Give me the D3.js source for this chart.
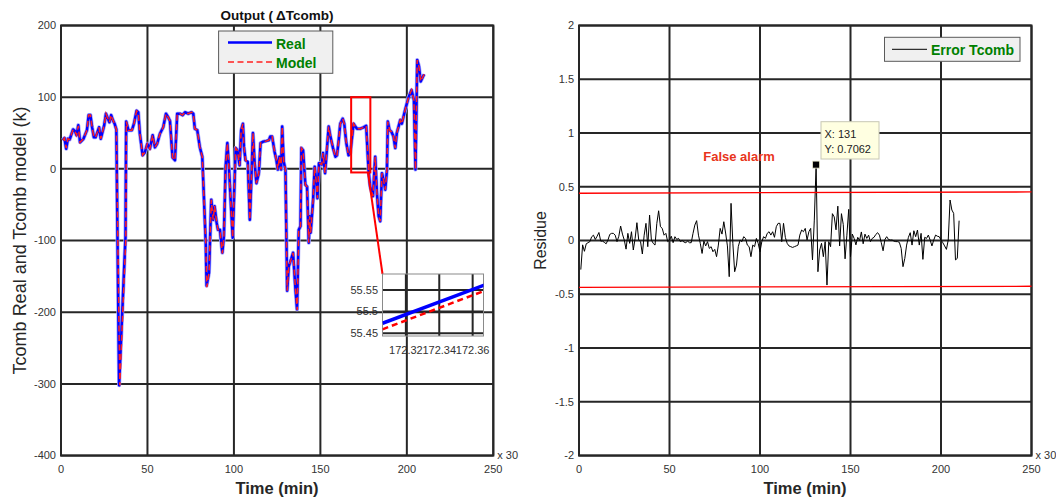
<!DOCTYPE html>
<html><head><meta charset="utf-8">
<script src="https://cdn.jsdelivr.net/npm/d3@7"></script>
<style>body{margin:0;background:#fff} text{font-family:"Liberation Sans",Arial,Helvetica,sans-serif}</style>
</head><body><svg id="c" width="1056" height="497"></svg>
<script>
// ---------- data ----------
const xTicks = [0, 50, 100, 150, 200, 250];
const leftYTicks = [-400, -300, -200, -100, 0, 100, 200];
const rightYTicks = [-2, -1.5, -1, -0.5, 0, 0.5, 1, 1.5, 2];
const legendLeft = ["Real", "Model"];
const legendRight = ["Error Tcomb"];

// [time, value] of Tcomb real
const realPoints = [[1,40],[2,43],[3,28],[4,42],[5,41],[7,55],[8,53],[9,47],[10,61],[11,37],[13,42],[15,54],[16,75],[17,75],[18,58],[19,44],[20,44],[22,58],[23,42],[25,61],[26,77],[28,65],[29,75],[30,68],[31,63],[32,55],[33.6,-302],[37.3,-95],[37.7,66],[39,54],[41,54],[42.2,63],[43.7,81],[44.7,79],[45.6,49],[47.2,19],[48.5,23],[49.9,35],[51.4,28],[53,47],[54.3,30],[55.6,35],[57.2,49],[59.1,58],[60.7,77],[62,72],[63,67],[64.5,16],[65.9,12],[67.2,77],[68.8,77],[70.3,75],[71.7,79],[73.6,77],[75.5,79],[76.5,77],[77.4,56],[78.8,54],[80.3,30],[81.7,17],[83.7,-103],[84.2,-163],[85.6,-145],[86.9,-43],[88,-71],[88.8,-52],[90,-75],[90.8,-85],[91.9,-85],[93.3,-117],[94.2,-94],[95.2,3],[96.2,36],[97.1,3],[98.1,-43],[99.3,-96],[101,29],[102,26],[103.3,5],[104.2,54],[105.2,63],[105.8,31],[106.7,12],[108,10],[109.2,-71],[110,-20],[111,50],[112,8],[113,-20],[114.4,-6],[115.4,36],[116.9,38],[118.8,39],[120.2,40],[121,45],[122.1,45],[123.5,24],[124.6,12],[125.4,-1],[126.3,17],[127.3,-1],[127.9,59],[128.8,10],[129.8,-1],[130.8,-170],[131.7,-136],[133.1,-126],[134.2,-117],[135.6,-168],[136.5,-196],[137.5,-85],[138.5,-80],[139,29],[140,26],[141.3,-22],[142.3,-25],[143.3,-103],[143.8,-66],[144.4,-89],[145.8,-43],[146.7,3],[147.7,-20],[148.3,-41],[149.2,8],[150.8,6],[151.5,22],[152.7,-6],[154.8,59],[155.8,45],[157.3,29],[158.7,17],[159.6,19],[160.6,40],[161.5,63],[162.9,70],[163.8,63],[165,36],[166.3,19],[167.3,22],[169.2,63],[170.2,59],[171.2,56],[173.1,56],[175,58],[176.5,60],[177.9,-4],[178.8,-25],[180.4,-38],[181.7,17],[182.7,-34],[183.7,-66],[184.6,-73],[185.6,-6],[186.5,-15],[187.5,-29],[188.5,-1],[189,66],[190,54],[191,52],[192.3,45],[193.3,29],[194.2,50],[195.2,59],[196.2,68],[197.1,63],[198.1,73],[199,82],[200,91],[201,100],[202.7,110],[204.1,96],[205,-1],[206,152],[207,143],[208,122],[210,132]];
// [time, value] of Tcomb model
const modelPoints = [[1,40],[2,43],[3,29],[4,42],[5,41],[7,55],[8,53],[9,47],[10,60],[11,37],[13,42],[15,54],[16,75],[17,75],[18,58],[19,44],[20,44],[22,58],[23,42],[25,61],[26,77],[28,65],[29,75],[30,68],[31,63],[32,55],[34,-302],[37.5,-95],[37.8,66],[39,54],[41,54],[42.2,63],[43.7,81],[44.7,79],[45.6,49],[47.2,19],[48.5,23],[49.9,35],[51.4,28],[53,47],[54.3,30],[55.6,35],[57.2,49],[59.1,58],[60.7,77],[62,72],[63,67],[64.5,16],[65.9,12],[67.2,77],[68.8,77],[70.3,75],[71.7,79],[73.6,77],[75.5,79],[76.5,77],[77.4,56],[78.8,54],[80.3,30],[81.7,17],[83.7,-103],[84.3,-165],[85.6,-145],[86.9,-43],[88,-71],[88.8,-52],[90,-75],[90.8,-85],[91.9,-85],[93.3,-118],[94.2,-94],[95.2,3],[96.2,36],[97.1,3],[98.1,-43],[99.3,-96],[101,29],[102,26],[103.3,5],[104.2,54],[105.2,63],[105.8,31],[106.7,12],[108,10],[109.2,-71],[110,-20],[111,50],[112,8],[113,-20],[114.4,-6],[115.4,36],[116.9,38],[118.8,39],[120.2,40],[121,45],[122.1,45],[123.5,24],[124.6,12],[125.4,-1],[126.3,17],[127.3,-1],[127.9,59],[128.8,10],[129.8,-1],[130.8,-170],[131.7,-136],[133.1,-126],[134.2,-117],[135.6,-168],[136.6,-197],[137.5,-85],[138.5,-80],[139,29],[140,26],[141.3,-22],[142.3,-25],[143.3,-103],[143.8,-66],[144.4,-89],[145.8,-43],[146.7,3],[147.7,-20],[148.3,-41],[149.2,8],[150.8,6],[151.5,22],[152.7,-6],[154.8,59],[155.8,45],[157.3,29],[158.7,17],[159.6,19],[160.6,40],[161.5,63],[162.9,70],[163.8,63],[165,36],[166.3,19],[167.3,22],[169.2,63],[170.2,59],[171.2,56],[173.1,56],[175,58],[176.5,60],[177.9,-4],[178.8,-25],[180.4,-38],[181.7,17],[182.7,-34],[183.7,-66],[184.6,-73],[185.6,-6],[186.5,-15],[187.5,-29],[188.5,-1],[189,66],[190,54],[191,52],[192.3,45],[193.3,29],[194.2,50],[195.2,59],[196.2,68],[197.1,63],[198.1,73],[199,82],[200,91],[201,100],[202.7,110],[204.1,96],[205,-1],[206,152],[207,143],[208,122],[210,132]];

// zoom rectangle (time range, value range) and inset data
const zoomRectTime = [167.8, 178.9];
const zoomRectValue = [-5, 100];
const insetXTicks = [172.32, 172.34, 172.36];
const insetYTicks = [55.45, 55.5, 55.55];
const insetTime = [172.306, 172.367];
const insetReal = [55.473, 55.5615];
const insetModel = [55.459, 55.548];

// residue (error Tcomb), one value per sample 1..210
const residue = [-0.27,-0.04,-0.1,-0.03,-0.02,-0.01,0.035,0.05,0.01,0.04,0.075,-0.005,-0.005,-0.017,-0.03,0.005,0.057,0.067,0.067,0.05,
-0.01,0.04,0.135,0.06,0.005,-0.08,0.067,-0.026,0.082,-0.088,0.02,0.166,0.005,-0.01,-0.125,0.05,0.16,-0.057,0.237,0.005,
-0.026,-0.042,0.16,0.277,0.129,0.113,0.05,0.067,-0.01,0.005,0.04,-0.02,0.036,0.01,0.02,-0.01,0,-0.014,-0.02,-0.005,
-0.02,-0.02,0.067,0.144,0.185,0.05,-0.026,-0.12,-0.005,-0.05,-0.01,-0.073,-0.057,-0.104,-0.082,-0.15,-0.042,0.113,0.06,0.175,
0.07,-0.05,-0.336,0.346,-0.026,-0.29,-0.228,-0.057,0.005,-0.01,0.036,0.02,-0.042,-0.057,-0.15,-0.042,-0.057,0.02,-0.026,-0.104,
-0.01,0.036,0.02,0.067,0.082,0.051,0.082,0.03,0.129,0.16,0.16,-0.01,0.16,0.03,-0.026,-0.05,-0.057,-0.064,-0.057,-0.05,
-0.042,0.051,0.098,0.082,0.113,0.005,0.082,0.113,-0.18,0.19,0.7062,-0.29,-0.088,-0.026,-0.15,-0.01,-0.414,-0.01,-0.057,0.25,
0.22,0.1,0.32,-0.05,0.25,0.15,-0.17,0.05,0.29,-0.15,0.06,0.02,-0.04,0.03,0,0.08,-0.03,0.06,0.02,0.05,
-0.01,0.02,0.03,0.057,0.073,0.05,-0.02,-0.095,0.01,0.036,0.01,0.005,0.005,-0.005,-0.01,-0.01,-0.017,-0.073,-0.243,-0.166,
-0.042,0.03,0.073,-0.042,0.091,0.036,0.098,-0.042,0.067,-0.175,0.03,0.02,0.051,0.005,-0.05,0.005,0.051,0.04,0.036,0.005,
-0.02,-0.05,-0.082,0.005,0.377,0.284,0.253,-0.18,-0.166,0.185];
const residueStart = 1;

// thresholds: value at time 0 and time 250
const thresholdTime = [0, 250];
const upperThreshold = [0.44, 0.452];
const lowerThreshold = [-0.435, -0.425];
const dataTip = {x: 131, y: 0.7062};

// ---------- drawing ----------
const svg = d3.select("#c");
svg.append("rect").attr("width",1056).attr("height",497).attr("fill","#fff");
const GRID = "#262626", TICK = "#333";

function axesFrame(g, x, y, yTicks, yFmt){
  // tick labels
  g.selectAll(".yl").data(yTicks).enter().append("text")
    .attr("x", x.range()[0]-5).attr("y", d=>y(d)).attr("dy","0.35em")
    .attr("text-anchor","end").attr("font-size",11).attr("fill",TICK).text(yFmt);
  g.selectAll(".xl").data(xTicks).enter().append("text")
    .attr("x", d=>x(d)).attr("y", y.range()[0]+17.5)
    .attr("text-anchor","middle").attr("font-size",11).attr("fill",TICK).text(d=>d);
  g.append("text").attr("x", x.range()[1]+4).attr("y", y.range()[0]+3.5)
    .attr("font-size",11).attr("fill",TICK).text("x 30");
}
function gridLines(g, x, y, yTicks){
  g.selectAll(".gy").data(yTicks).enter().append("line")
    .attr("x1",x.range()[0]).attr("x2",x.range()[1]).attr("y1",d=>y(d)).attr("y2",d=>y(d))
    .attr("stroke",GRID).attr("stroke-width",2);
  g.selectAll(".gx").data(xTicks).enter().append("line")
    .attr("y1",y.range()[0]).attr("y2",y.range()[1]).attr("x1",d=>x(d)).attr("x2",d=>x(d))
    .attr("stroke",GRID).attr("stroke-width",2);
  g.append("rect").attr("x",x.range()[0]).attr("y",y.range()[1])
    .attr("width",x.range()[1]-x.range()[0]).attr("height",y.range()[0]-y.range()[1])
    .attr("fill","none").attr("stroke",GRID).attr("stroke-width",2);
}

// ----- left plot -----
const xL = d3.scaleLinear().domain([0,250]).range([61,493.3]);
const yL = d3.scaleLinear().domain([-400,200]).range([455.6,25.5]);
const gL = svg.append("g");

// inset scales
const xI = d3.scaleLinear().domain([172.306,172.3665]).range([382.5,483.5]);
const yI = d3.scaleLinear().domain([55.4435,55.587]).range([336,274]);

axesFrame(gL, xL, yL, leftYTicks, d=>d);
// inset tick labels (under main grid)
gL.selectAll(".iyl").data(insetYTicks).enter().append("text")
  .attr("x",378).attr("y",d=>yI(d)).attr("dy","0.35em").attr("text-anchor","end")
  .attr("font-size",11).attr("fill",TICK).text(d=>d);
gL.selectAll(".ixl").data(insetXTicks).enter().append("text")
  .attr("x",d=>xI(d)).attr("y",354).attr("text-anchor","middle")
  .attr("font-size",11).attr("fill",TICK).text(d=>d);
gridLines(gL, xL, yL, leftYTicks);

const lineL = d3.line().x(d=>xL(d[0])).y(d=>yL(d[1]));
gL.append("path").attr("d",lineL(realPoints)).attr("fill","none")
  .attr("stroke","#a8a8ff").attr("stroke-width",4).attr("stroke-linejoin","round");
gL.append("path").attr("d",lineL(realPoints)).attr("fill","none")
  .attr("stroke","#0000ff").attr("stroke-width",2.5).attr("stroke-linejoin","round");
gL.append("path").attr("d",lineL(modelPoints)).attr("fill","none")
  .attr("stroke","#ff2020").attr("stroke-width",1.5).attr("stroke-dasharray","6,3.5");

// zoom rectangle + connector
gL.append("rect").attr("x",xL(zoomRectTime[0])).attr("y",yL(zoomRectValue[1]))
  .attr("width",xL(zoomRectTime[1])-xL(zoomRectTime[0]))
  .attr("height",yL(zoomRectValue[0])-yL(zoomRectValue[1]))
  .attr("fill","none").attr("stroke","#ff0000").attr("stroke-width",2);
gL.append("line").attr("x1",xL(177.5)).attr("y1",yL(zoomRectValue[0]))
  .attr("x2",xI.range()[0]).attr("y2",yI.range()[1])
  .attr("stroke","#ff0000").attr("stroke-width",2);

// inset
const gI = svg.append("g");
gI.selectAll(".igy").data(insetYTicks).enter().append("line")
  .attr("x1",xI.range()[0]).attr("x2",xI.range()[1]).attr("y1",d=>yI(d)).attr("y2",d=>yI(d))
  .attr("stroke",GRID).attr("stroke-width",2);
gI.selectAll(".igx").data(insetXTicks).enter().append("line")
  .attr("y1",yI.range()[0]).attr("y2",yI.range()[1]).attr("x1",d=>xI(d)).attr("x2",d=>xI(d))
  .attr("stroke",GRID).attr("stroke-width",2);
gI.append("rect").attr("x",xI.range()[0]).attr("y",yI.range()[1])
  .attr("width",xI.range()[1]-xI.range()[0]).attr("height",yI.range()[0]-yI.range()[1])
  .attr("fill","none").attr("stroke","#8a8a8a").attr("stroke-width",1);
const clipI = svg.append("clipPath").attr("id","ci").append("rect")
  .attr("x",xI.range()[0]).attr("y",yI.range()[1])
  .attr("width",xI.range()[1]-xI.range()[0]).attr("height",yI.range()[0]-yI.range()[1]);
const lineI = d3.line().x((d,i)=>xI(insetTime[i])).y(d=>yI(d));
gI.append("path").attr("d",lineI(insetReal)).attr("clip-path","url(#ci)")
  .attr("stroke","#0000ff").attr("stroke-width",3.5).attr("fill","none");
gI.append("path").attr("d",lineI(insetModel)).attr("clip-path","url(#ci)")
  .attr("stroke","#ff0000").attr("stroke-width",2.5).attr("stroke-dasharray","6,4").attr("fill","none");

// legend left
gL.append("rect").attr("x",218.6).attr("y",31).attr("width",114.2).attr("height",42.3)
  .attr("fill","#f0f0f0").attr("stroke","#5a5a5a").attr("stroke-width",1);
gL.append("line").attr("x1",228).attr("x2",272).attr("y1",42.5).attr("y2",42.5)
  .attr("stroke","#0000ff").attr("stroke-width",2.5);
gL.append("line").attr("x1",228).attr("x2",272).attr("y1",62).attr("y2",62)
  .attr("stroke","#ff2020").attr("stroke-width",1.5).attr("stroke-dasharray","6,3.5");
gL.selectAll(".lg").data(legendLeft).enter().append("text")
  .attr("x",276).attr("y",(d,i)=>48.5+i*19.5).attr("font-size",14).attr("font-weight","bold")
  .attr("fill","#008000").text(d=>d);

// title & labels
const title = svg.append("text").attr("x",277).attr("y",20).attr("text-anchor","middle")
  .attr("font-size",13.5).attr("font-weight","bold").attr("fill","#111");
title.append("tspan").text("Output (");
title.append("tspan").attr("dx",3).text("ΔTcomb)");
svg.append("text").attr("x",277).attr("y",493.5).attr("text-anchor","middle")
  .attr("font-size",16.5).attr("font-weight","bold").attr("fill","#262626").text("Time (min)");
svg.append("text").attr("transform","translate(25.5,240.5) rotate(-90)").attr("text-anchor","middle")
  .attr("font-size",18).attr("fill","#262626").text("Tcomb Real and Tcomb model (k)");

// ----- right plot -----
const xR = d3.scaleLinear().domain([0,250]).range([579,1031.5]);
const yR = d3.scaleLinear().domain([-2,2]).range([455.6,25.5]);
const gR = svg.append("g");
axesFrame(gR, xR, yR, rightYTicks, d=>d);
gridLines(gR, xR, yR, rightYTicks);

gR.append("path").attr("d", d3.line().x((d,i)=>xR(residueStart+i)).y(d=>yR(d))(residue))
  .attr("fill","none").attr("stroke","#000").attr("stroke-width",1);
const thrLine = d3.line().x((d,i)=>xR(thresholdTime[i])).y(d=>yR(d));
[upperThreshold, lowerThreshold].forEach(t=>{
  gR.append("path").attr("d",thrLine(t)).attr("fill","none")
    .attr("stroke","#ff0000").attr("stroke-width",1.3);
});

// legend right
gR.append("rect").attr("x",884.5).attr("y",37.3).attr("width",135.5).attr("height",24)
  .attr("fill","#f0f0f0").attr("stroke","#5a5a5a").attr("stroke-width",1);
gR.append("line").attr("x1",892).attr("x2",927).attr("y1",49.3).attr("y2",49.3)
  .attr("stroke","#000").attr("stroke-width",1);
gR.append("text").attr("x",931).attr("y",54.5).attr("font-size",14).attr("font-weight","bold")
  .attr("fill","#008000").text(legendRight[0]);

// data tip
gR.append("rect").attr("x",821).attr("y",121.7).attr("width",58).attr("height",37.3)
  .attr("fill","#ffffe1").attr("stroke","#c8c8b4").attr("stroke-width",1);
gR.append("text").attr("x",824.5).attr("y",138).attr("font-size",11).attr("fill","#222").text("X: " + dataTip.x);
gR.append("text").attr("x",824.5).attr("y",153).attr("font-size",11).attr("fill","#222").text("Y: " + dataTip.y);
gR.append("rect").attr("x",xR(dataTip.x)-3.5).attr("y",yR(dataTip.y)-3.5).attr("width",7).attr("height",7)
  .attr("fill","#000").attr("stroke","#e8e8c8").attr("stroke-width",0.8);

gR.append("text").attr("x",739).attr("y",161).attr("text-anchor","middle")
  .attr("font-size",13).attr("font-weight","bold").attr("fill","#e8341c").text("False alarm");
svg.append("text").attr("x",805).attr("y",493.5).attr("text-anchor","middle")
  .attr("font-size",16.5).attr("font-weight","bold").attr("fill","#262626").text("Time (min)");
svg.append("text").attr("transform","translate(546,240.5) rotate(-90)").attr("text-anchor","middle")
  .attr("font-size",16).attr("fill","#262626").text("Residue");
</script></body></html>
